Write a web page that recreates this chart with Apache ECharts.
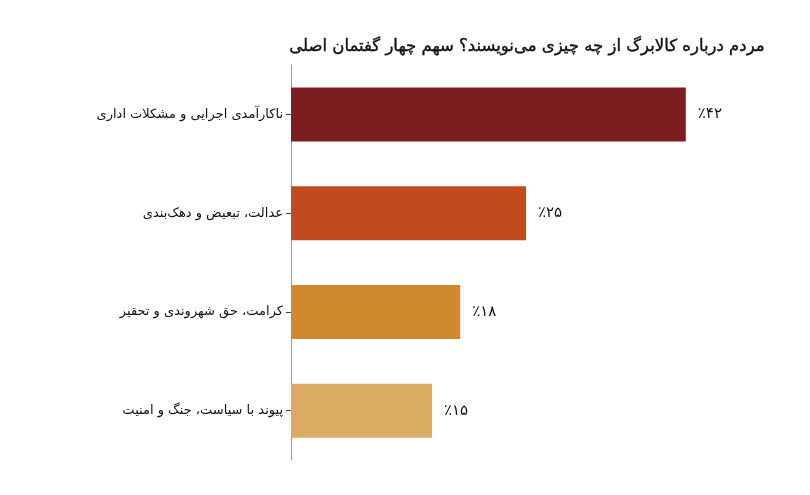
<!DOCTYPE html>
<html>
<head>
<meta charset="utf-8">
<script src="https://cdn.jsdelivr.net/npm/echarts@6/dist/echarts.min.js"></script>
<style>html,body{margin:0;padding:0;background:#fff}#c{width:810px;height:495px}</style>
</head>
<body>
<div id="c"></div>
<script>
const titleText = 'مردم درباره کالابرگ از چه چیزی می‌نویسند؟ سهم چهار گفتمان اصلی';
const categories = [
  'ناکارآمدی اجرایی و مشکلات اداری',
  'عدالت، تبعیض و دهک‌بندی',
  'کرامت، حق شهروندی و تحقیر',
  'پیوند با سیاست، جنگ و امنیت'
];
const shares = [42, 25, 18, 15];
const barColors = ['#7c1d20', '#c14b1e', '#d1892e', '#dcab63'];

const toFa = s => String(s).replace(/[0-9]/g, d => '۰۱۲۳۴۵۶۷۸۹'[d]);
const font = '"DejaVu Sans", "Noto Sans", sans-serif';

const chart = echarts.init(document.getElementById('c'), null, {renderer: 'canvas'});
chart.setOption({
  animation: false,
  title: {
    text: titleText,
    right: 40, top: 33,
    textStyle: {fontFamily: font, fontSize: 16.5, fontWeight: 'normal', color: '#111', textBorderColor: '#111', textBorderWidth: 0.4}
  },
  grid: {left: 291, top: 65, width: 423, height: 395, containLabel: false},
  xAxis: {
    type: 'value', min: 0, max: 45,
    show: false
  },
  yAxis: {
    type: 'category', data: categories, inverse: true,
    axisLine: {show: true, lineStyle: {color: '#999', width: 1}},
    axisTick: {show: true, alignWithLabel: true, length: 5, lineStyle: {color: '#444'}},
    axisLabel: {fontFamily: font, fontSize: 13, color: '#111', margin: 8}
  },
  series: [{
    type: 'bar',
    data: shares.map((v, i) => ({value: v, itemStyle: {color: barColors[i]}})),
    barWidth: 54,
    label: {
      show: true, position: 'right', distance: 12,
      fontFamily: font, fontSize: 15, color: '#111',
      formatter: p => '٪' + toFa(p.value)
    }
  }]
});
</script>
</body>
</html>
